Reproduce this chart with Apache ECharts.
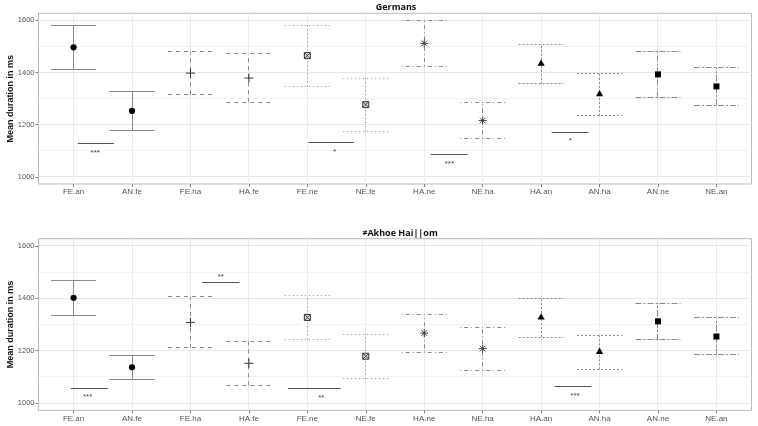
<!DOCTYPE html>
<html><head><meta charset="utf-8">
<script src="https://cdn.jsdelivr.net/npm/echarts@6/dist/echarts.min.js"></script>
<style>html,body{margin:0;padding:0;background:#fff}#c{width:758px;height:426px}</style>
</head><body><div id="c"></div>
<script>
// ---- data ----
const categories = ['FE.an','AN.fe','FE.ha','HA.fe','FE.ne','NE.fe','HA.ne','NE.ha','HA.an','AN.ha','AN.ne','NE.an'];
const yTicks = [1000,1200,1400,1600];
const yMinor = [1100,1300,1500];
const panelTitles = ['Germans','\u2260Akhoe Hai||om'];
const yTitle = 'Mean duration in ms';

const germansMean  = [1497,1253,1398,1379,1465,1277,1512,1216,1435,1318,1393,1347];
const germansLower = [1412,1179,1315,1286,1347,1175,1425,1147,1357,1234,1304,1275];
const germansUpper = [1580,1326,1480,1472,1582,1378,1600,1285,1507,1397,1481,1420];

const akhoeMean  = [1402,1137,1308,1152,1327,1179,1267,1208,1328,1197,1312,1254];
const akhoeLower = [1335,1091,1211,1068,1243,1093,1194,1125,1252,1129,1241,1184];
const akhoeUpper = [1469,1183,1405,1237,1409,1263,1338,1290,1398,1258,1382,1326];

// significance bars (x in category units, y in ms)
const germansSigFrom  = [0.07,4.02,6.11,8.18];
const germansSigTo    = [0.69,4.80,6.74,8.81];
const germansSigY     = [1128,1132,1086,1169];
const germansSigText  = ['***','*','***','*'];
const germansStarX    = [0.37,4.47,6.43,8.50];
const germansStarY    = [1100,1105,1056,1147];

const akhoeSigFrom  = [-0.05,2.20,3.67,8.23];
const akhoeSigTo    = [0.59,2.84,4.57,8.86];
const akhoeSigY     = [1055,1462,1056,1063];
const akhoeSigText  = ['***','**','**','***'];
const akhoeStarX    = [0.24,2.52,4.24,8.58];
const akhoeStarY    = [1031,1490,1027,1036];

// ---- styles ----
const FONT = '"Liberation Sans", Arial, sans-serif';
const dashes = [null,[4,4],[1,3],[1,3,4,3],[2,2],[6,2,2,2]];
const shapes = ['circle','plus','boxX','asterisk','triangle','square'];
const capHalf = 0.385;
const lineCol = '#8a8a8a';

function crisp(v){ return Math.round(v - 0.5) + 0.5; }

function errRender(params, api){
  const i = api.value(0);
  const pLo = api.coord([i, api.value(1)]);
  const pHi = api.coord([i, api.value(2)]);
  const pL = api.coord([i - capHalf, api.value(1)]);
  const pR = api.coord([i + capHalf, api.value(1)]);
  const dash = dashes[Math.floor(i/2)];
  const st = {stroke: lineCol, lineWidth: 1, lineDash: dash, fill: null};
  const x = crisp(pLo[0]);
  return {type:'group', children:[
    {type:'line', shape:{x1:x, y1:pLo[1], x2:x, y2:pHi[1]}, style:st},
    {type:'line', shape:{x1:pL[0], y1:crisp(pHi[1]), x2:pR[0], y2:crisp(pHi[1])}, style:st},
    {type:'line', shape:{x1:pL[0], y1:crisp(pLo[1]), x2:pR[0], y2:crisp(pLo[1])}, style:st}
  ]};
}

function markRender(params, api){
  const i = api.value(0);
  const p = api.coord([i, api.value(1)]);
  const cx = p[0], cy = p[1];
  const s = shapes[Math.floor(i/2)];
  const ln = (x1,y1,x2,y2,c,w)=>({type:'line', shape:{x1,y1,x2,y2}, style:{stroke:c||'#222', lineWidth:w||1}});
  if (s === 'circle') return {type:'circle', shape:{cx, cy, r:3.1}, style:{fill:'#000'}};
  if (s === 'square') return {type:'rect', shape:{x:cx-3, y:cy-3, width:6, height:6}, style:{fill:'#000'}};
  if (s === 'triangle') return {type:'polygon', shape:{points:[[cx,cy-4],[cx-3.6,cy+2.4],[cx+3.6,cy+2.4]]}, style:{fill:'#000'}};
  if (s === 'plus') return {type:'group', children:[ln(cx-4.5,cy,cx+4.5,cy,'#333'), ln(cx,cy-4.5,cx,cy+4.5,'#333')]};
  if (s === 'boxX') return {type:'group', children:[
    {type:'rect', shape:{x:cx-3, y:cy-3, width:6, height:6}, style:{fill:'#ddd', stroke:'#333', lineWidth:1}},
    ln(cx-3,cy-3,cx+3,cy+3,'#333',0.9), ln(cx-3,cy+3,cx+3,cy-3,'#333',0.9)]};
  // asterisk
  const r = 4, d = r*0.7071;
  return {type:'group', children:[
    ln(cx-r,cy,cx+r,cy,'#333',0.9), ln(cx,cy-r,cx,cy+r,'#333',0.9),
    ln(cx-d,cy-d,cx+d,cy+d,'#333',0.9), ln(cx-d,cy+d,cx+d,cy-d,'#333',0.9)]};
}

function sigRender(texts){
  return function(params, api){
    const a = api.coord([api.value(0), api.value(2)]);
    const b = api.coord([api.value(1), api.value(2)]);
    const t = api.coord([api.value(3), api.value(4)]);
    return {type:'group', children:[
      {type:'line', shape:{x1:a[0], y1:crisp(a[1]), x2:b[0], y2:crisp(a[1])}, style:{stroke:'#555', lineWidth:1}},
      {type:'text', x:t[0], y:t[1]+2, style:{text:texts[params.dataIndex], fontSize:8, fontFamily:FONT, fill:'#444', align:'center', verticalAlign:'middle'}}
    ]};
  };
}

function hLineRender(color){
  return function(params, api){
    const cs = params.coordSys;
    const y = crisp(api.coord([5.5, api.value(1)])[1]);
    return {type:'line', shape:{x1:cs.x, y1:y, x2:cs.x+cs.width, y2:y}, style:{stroke:color, lineWidth:1}};
  };
}
function vLineRender(params, api){
  const cs = params.coordSys;
  const x = crisp(api.coord([api.value(0), 1300])[0]);
  return {type:'line', shape:{x1:x, y1:cs.y, x2:x, y2:cs.y+cs.height}, style:{stroke:'#ebebeb', lineWidth:1}};
}

const grids = [
  {left:38.5, top:13.3, width:713, height:170.7},
  {left:38.5, top:238.7, width:713, height:171.6}
];
const catIdx = categories.map((c,i)=>i);

const option = {
  animation:false,
  backgroundColor:'#fff',
  title: panelTitles.map((t,k)=>({
    text:t, left: k===0 ? 391 : 395, top: k===0 ? -2 : 224, textAlign:'center',
    textStyle:{fontSize:9, fontWeight:'bold', fontFamily:'"Open Sans", "Liberation Sans", sans-serif', color:'#111'}
  })),
  grid: grids.map(g=>Object.assign({show:true, borderColor:'#b9b9b9', borderWidth:1, backgroundColor:'#fff',
    containLabel:false, outerBoundsMode:'none'}, g)),
  xAxis: [0,1].map(k=>({
    type:'value', gridIndex:k, min:-0.6, max:11.6,
    splitLine:{show:false}, axisLine:{show:false, onZero:false},
    axisTick:{show:true, length:3, customValues:catIdx, lineStyle:{color:'#7f7f7f'}},
    axisLabel:{customValues:catIdx, formatter:v=>categories[Math.round(v)], fontSize:8, fontFamily:FONT, color:'#555', margin:4}
  })),
  yAxis: [0,1].map(k=>({
    type:'value', gridIndex:k, min:972.7, max:1627.3,
    name:yTitle, nameLocation:'middle', nameGap:23, nameRotate:90, nameMoveOverlap:false,
    nameTextStyle:{fontSize:9, fontWeight:'bold', fontFamily:FONT, color:'#111'},
    splitLine:{show:false}, axisLine:{show:false, onZero:false},
    axisTick:{show:true, length:3, customValues:yTicks, lineStyle:{color:'#7f7f7f'}},
    axisLabel:{customValues:yTicks, formatter:v=>String(v), fontSize:7.5, fontFamily:FONT, color:'#555', margin:4}
  })),
  series: []
};

const panels = [
  {mean:germansMean, lo:germansLower, hi:germansUpper, from:germansSigFrom, to:germansSigTo, y:germansSigY, txt:germansSigText, sx:germansStarX, sy:germansStarY},
  {mean:akhoeMean, lo:akhoeLower, hi:akhoeUpper, from:akhoeSigFrom, to:akhoeSigTo, y:akhoeSigY, txt:akhoeSigText, sx:akhoeStarX, sy:akhoeStarY}
];

panels.forEach((P,k)=>{
  const ax = {xAxisIndex:k, yAxisIndex:k, silent:true, clip:false};
  option.series.push(Object.assign({type:'custom', z:1, renderItem:hLineRender('#f3f3f3'), data:yMinor.map(v=>[5.5,v])}, ax));
  option.series.push(Object.assign({type:'custom', z:1, renderItem:hLineRender('#e6e6e6'), data:yTicks.map(v=>[5.5,v])}, ax));
  option.series.push(Object.assign({type:'custom', z:1, renderItem:vLineRender, data:catIdx.map(i=>[i,1300])}, ax));
  option.series.push(Object.assign({type:'custom', z:2, renderItem:errRender, data:catIdx.map(i=>[i,P.lo[i],P.hi[i]])}, ax));
  option.series.push(Object.assign({type:'custom', z:3, renderItem:markRender, data:catIdx.map(i=>[i,P.mean[i]])}, ax));
  option.series.push(Object.assign({type:'custom', z:3, renderItem:sigRender(P.txt), data:P.from.map((f,j)=>[f,P.to[j],P.y[j],P.sx[j],P.sy[j]])}, ax));
});

const chart = echarts.init(document.getElementById('c'), null, {renderer:'canvas'});
chart.setOption(option);
</script>
</body></html>
